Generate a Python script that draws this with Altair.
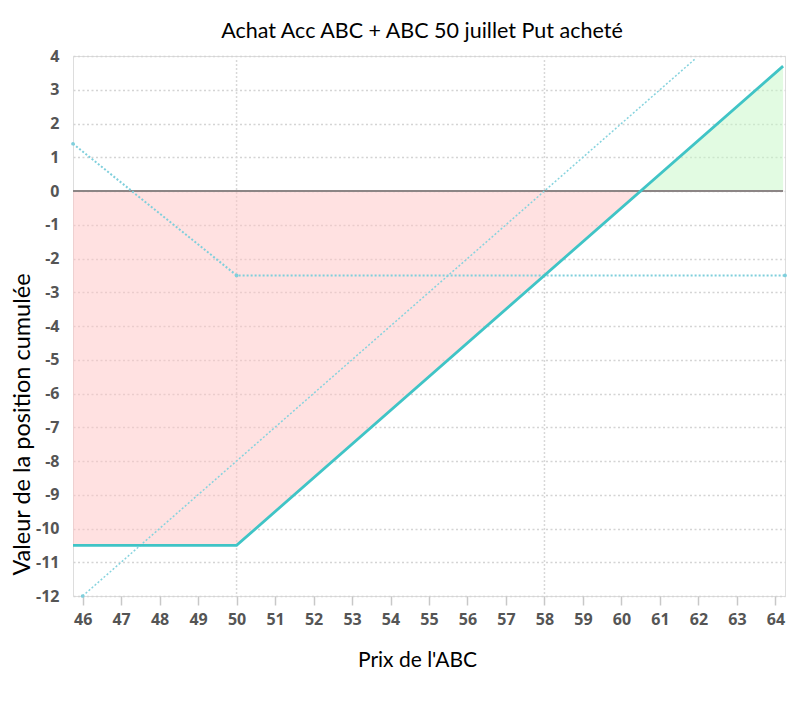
import altair as alt
import pandas as pd

# ---- data ----
x_total = [45.75, 50, 64.2]
y_total = [-10.5, -10.5, 3.7]

x_put = [45.75, 50, 64.25]
y_put = [1.4, -2.5, -2.5]

x_stock = [46, 61.9]
y_stock = [-12, 3.9]

loss_x = [45.75, 50, 60.5]
loss_y = [-10.5, -10.5, 0]

gain_x = [60.5, 64.2]
gain_y = [0, 3.7]

zero_x = [45.75, 64.2]
zero_y = [0, 0]

vgrid = [50, 58]
x_ticks = list(range(46, 65))
y_ticks = list(range(-12, 5))

title = "Achat Acc ABC + ABC 50 juillet Put acheté"
x_title = "Prix de l'ABC"
y_title = "Valeur de la position cumulée"

X_DOM = [45.75, 64.25]
Y_DOM = [-12, 4]

W, H = 712, 540

label_font = "Open Sans"
title_font = "Lato"

x_enc = alt.X(
    "x:Q",
    scale=alt.Scale(domain=X_DOM, nice=False, zero=False),
    axis=alt.Axis(
        values=x_ticks, labelExpr="'' + datum.value", grid=False, domain=False,
        ticks=True, tickSize=9, tickColor="#c8c8c8", tickWidth=1.5,
        labelPadding=6, labelFont=label_font, labelFontSize=16,
        labelFontWeight="bold", labelColor="#555555", labelOverlap=False,
        title=x_title, titleFont=title_font, titleFontSize=21,
        titleFontWeight="normal", titleColor="#000000",
        titleX=344, titleY=64, titleBaseline="middle",
        titleAlign="center",
    ),
)
y_enc = alt.Y(
    "y:Q",
    scale=alt.Scale(domain=Y_DOM, nice=False, zero=False),
    axis=alt.Axis(
        values=y_ticks, labelExpr="'' + datum.value", grid=True, gridColor="#d4d4d4",
        gridDash=[2, 2.5], gridWidth=1.5, domain=False, ticks=False,
        labelPadding=14, labelFont=label_font, labelFontSize=16,
        labelFontWeight="bold", labelColor="#555555", labelOverlap=False,
        title=y_title, titleFont=title_font, titleFontSize=23.5,
        titleFontWeight="normal", titleColor="#000000",
        titleX=-51, titleY=368, titleAngle=270, titleBaseline="middle",
        titleAlign="center",
    ),
)

def df(xs, ys):
    return pd.DataFrame({"x": xs, "y": ys})

vg = alt.Chart(pd.DataFrame({"x": vgrid})).mark_rule(
    color="#d8d8d8", strokeWidth=1.5, strokeDash=[2, 2]
).encode(x=x_enc, y=alt.value(4), y2=alt.value(H))

loss = alt.Chart(df(loss_x, loss_y)).mark_area(
    color="#ffc4c4", opacity=0.5
).encode(x=x_enc, y=y_enc, y2=alt.datum(0))

gain = alt.Chart(df(gain_x, gain_y)).mark_area(
    color="#c6f8c6", opacity=0.5
).encode(x=x_enc, y=y_enc, y2=alt.datum(0))

zero = alt.Chart(df(zero_x, zero_y)).mark_line(
    color="#8c8585", strokeWidth=2
).encode(x=x_enc, y=y_enc)

put = alt.Chart(df(x_put, y_put)).mark_line(
    color="#7fcfdc", strokeWidth=2, strokeDash=[2, 2],
    point=alt.OverlayMarkDef(size=14, filled=True, color="#7fcfdc"),
).encode(x=x_enc, y=y_enc)

stock = alt.Chart(df(x_stock, y_stock)).mark_line(
    color="#86d3de", strokeWidth=1.5, strokeDash=[2, 2], clip=True,
).encode(x=x_enc, y=y_enc)

stock_pt = alt.Chart(df(x_stock[:1], y_stock[:1])).mark_point(
    size=14, filled=True, color="#7fcfdc", opacity=1
).encode(x=x_enc, y=y_enc)

total = alt.Chart(df(x_total, y_total)).mark_line(
    color="#40c4c6", strokeWidth=2.8
).encode(x=x_enc, y=y_enc)

chart = alt.layer(vg, loss, gain, zero, stock, stock_pt, put, total).properties(
    width=W, height=H,
    autosize=alt.AutoSizeParams(type="none"),
    padding={"left": 65, "top": 48, "right": 2, "bottom": 92},
    title=alt.Title(title, font=title_font, fontSize=21.5, fontWeight="normal",
                    color="#000000", offset=6, dx=-7, anchor="middle"),
).configure_view(stroke=None).configure(background="white")

chart.save("out.html", embed_options={"renderer": "svg", "actions": False})
